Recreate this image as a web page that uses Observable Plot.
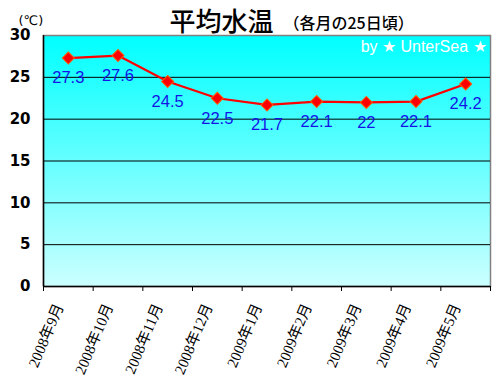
<!DOCTYPE html>
<html><head><meta charset="utf-8">
<script src="https://cdn.jsdelivr.net/npm/d3@7"></script>
<script src="https://cdn.jsdelivr.net/npm/@observablehq/plot@0.6"></script>
<style>body{margin:0;background:#fff;}</style>
</head><body><div id="chart"></div>
<script>
const months = ["2008年9月","2008年10月","2008年11月","2008年12月","2009年1月","2009年2月","2009年3月","2009年4月","2009年5月"];
const temps = [27.3, 27.6, 24.5, 22.5, 21.7, 22.1, 22, 22.1, 24.2];
const yTicks = [0, 5, 10, 15, 20, 25, 30];
const gridValues = [5, 10, 15, 20, 25];
const titleText = "平均水温";
const subtitleText = "（各月の25日頃）";
const unitText = "(℃)";
const creditText = "by ★ UnterSea ★";

const data = months.map((m, i) => ({month: m, pos: i + 0.5, temp: temps[i]}));
const jp = "'Noto Sans CJK JP', sans-serif";
const narrow = "'Liberation Sans', Arial, sans-serif";

const plot = Plot.plot({
  width: 500, height: 391,
  marginLeft: 43, marginRight: 10, marginTop: 35, marginBottom: 105,
  style: {background: "#fff", overflow: "visible", color: "#000"},
  x: {domain: [0, months.length]},
  y: {domain: [0, 30]},
  marks: [
    Plot.frame({fill: "url(#bg)", stroke: "#808080", strokeWidth: 1.5}),
    Plot.ruleY(gridValues, {stroke: "#000", strokeWidth: 1}),
    Plot.ruleY([0], {stroke: "#000", strokeWidth: 1.5}),
    Plot.ruleX([0], {stroke: "#000", strokeWidth: 1.5}),
    Plot.axisY({ticks: yTicks, tickSize: 0, tickPadding: 13, label: null,
      fontSize: 15, fontWeight: 600, fontFamily: "'DejaVu Sans', sans-serif"}),
    Plot.axisX({ticks: d3.range(0, months.length + 1), tickSize: 5, tickFormat: () => "", label: null}),
    Plot.axisX({ticks: data.map(d => d.pos), tickFormat: d => months[Math.floor(d)],
      tickSize: 0, tickPadding: 18, tickRotate: -67, label: null, dx: -9,
      fontSize: 15, fontFamily: "'Liberation Serif', 'Noto Sans CJK JP', serif"}),
    Plot.line(data, {x: "pos", y: "temp", stroke: "#ff0000", strokeWidth: 2.2}),
    Plot.dot(data, {x: "pos", y: "temp", symbol: "square", r: 4.8, rotate: 45,
      fill: "#ff0000", stroke: "#ff5a00", strokeWidth: 1}),
    Plot.text(data, {x: "pos", y: "temp", text: d => String(d.temp), dy: 20,
      fill: "#1414e6", fontSize: 16.5, fontFamily: narrow}),
    Plot.text([titleText], {frameAnchor: "top-left", dx: 126, dy: -5, lineAnchor: "bottom",
      textAnchor: "start", fontSize: 26, fontWeight: 500, fontFamily: jp, fill: "#000"}),
    Plot.text([subtitleText], {frameAnchor: "top-left", dx: 240, dy: -7, lineAnchor: "bottom",
      textAnchor: "start", fontSize: 16, fontWeight: 500, fontFamily: jp, fill: "#000"}),
    Plot.text([unitText], {frameAnchor: "top-left", dx: -25, dy: -11, lineAnchor: "bottom",
      textAnchor: "start", fontSize: 13, fontFamily: "'DejaVu Sans', sans-serif", fill: "#000"}),
    Plot.text([creditText], {frameAnchor: "top-right", dx: -4, dy: 5, lineAnchor: "top",
      textAnchor: "end", fontSize: 16, fill: "#fff", fontFamily: narrow})
  ]
});

d3.select(plot).insert("defs", ":first-child").html(
  '<linearGradient id="bg" x1="0" y1="0" x2="0" y2="1">' +
  '<stop offset="0" stop-color="#00ffff"/>' +
  '<stop offset="1" stop-color="#ccffff"/>' +
  '</linearGradient>');

document.getElementById("chart").appendChild(plot);
</script>
</body></html>
